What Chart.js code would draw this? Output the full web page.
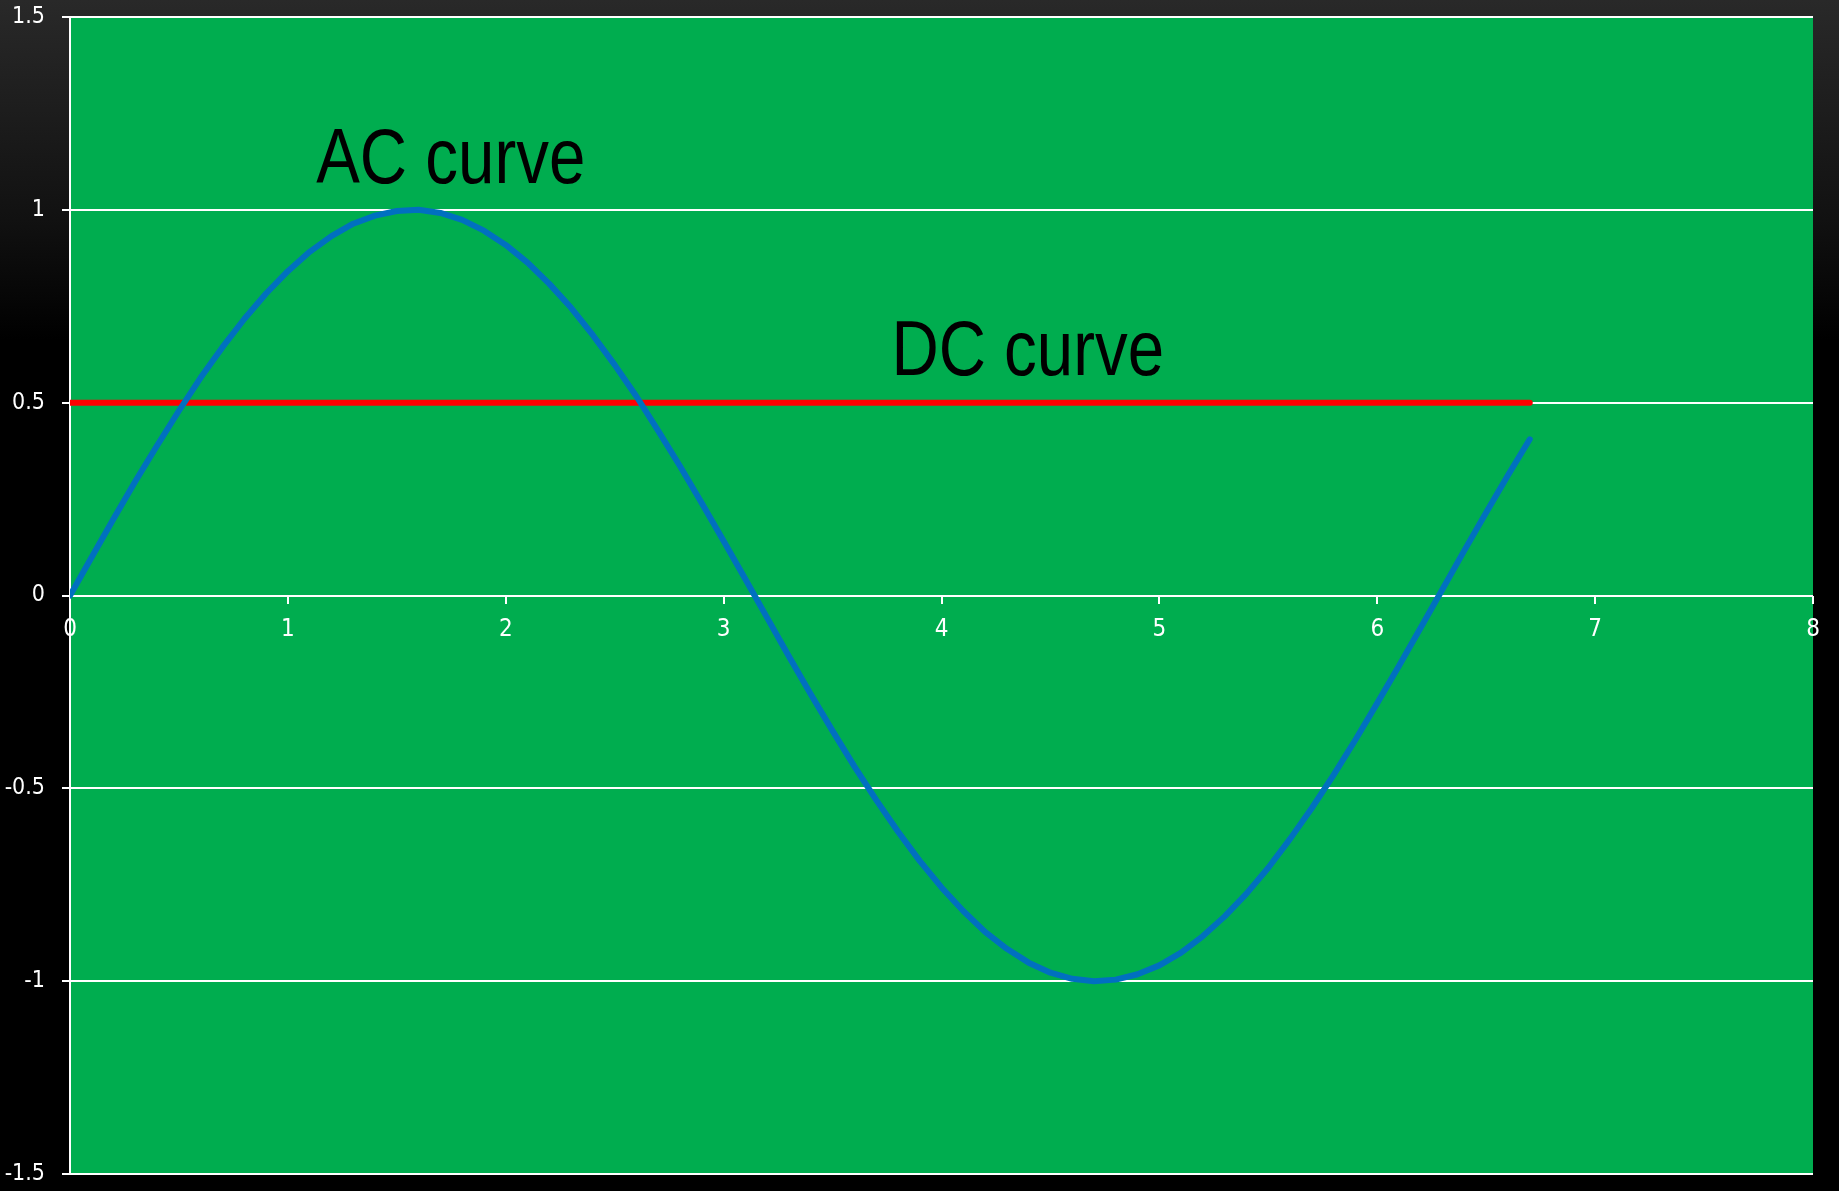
<!DOCTYPE html>
<html>
<head>
<meta charset="utf-8">
<script src="https://cdn.jsdelivr.net/npm/chart.js@4/dist/chart.umd.min.js"></script>
<style>
  html, body { margin: 0; padding: 0; }
  body { width: 1839px; height: 1191px; background: linear-gradient(to bottom, #292929 0px, #111 220px, #000 340px, #000 1191px); overflow: hidden; }
  #wrap { position: absolute; left: 0; top: 0; width: 1839px; height: 1191px; }
</style>
</head>
<body>
<div id="wrap"><canvas id="c" width="1839" height="1191"></canvas></div>
<script>
// Data
const acX = [0,0.1,0.2,0.3,0.4,0.5,0.6,0.7,0.8,0.9,1.0,1.1,1.2,1.3,1.4,1.5,1.6,1.7,1.8,1.9,2.0,2.1,2.2,2.3,2.4,2.5,2.6,2.7,2.8,2.9,3.0,3.1,3.2,3.3,3.4,3.5,3.6,3.7,3.8,3.9,4.0,4.1,4.2,4.3,4.4,4.5,4.6,4.7,4.8,4.9,5.0,5.1,5.2,5.3,5.4,5.5,5.6,5.7,5.8,5.9,6.0,6.1,6.2,6.3,6.4,6.5,6.6,6.7];
const acY = [0,0.100,0.199,0.296,0.389,0.479,0.565,0.644,0.717,0.783,0.841,0.891,0.932,0.964,0.985,0.997,1.000,0.992,0.974,0.946,0.909,0.863,0.808,0.746,0.675,0.598,0.516,0.427,0.335,0.239,0.141,0.042,-0.058,-0.158,-0.256,-0.351,-0.443,-0.530,-0.612,-0.688,-0.757,-0.818,-0.872,-0.916,-0.952,-0.978,-0.994,-1.000,-0.996,-0.982,-0.959,-0.926,-0.883,-0.832,-0.773,-0.706,-0.631,-0.551,-0.465,-0.374,-0.279,-0.182,-0.083,0.017,0.117,0.215,0.312,0.405];
const dcX = [0, 6.7];
const dcY = [0.5, 0.5];
const labelTexts = ["AC curve", "DC curve"];
const labelX = [1.13, 3.77];
const labelY = [1.069, 0.571];

const TICKFONT = '"DejaVu Sans Condensed", "Liberation Sans Narrow", sans-serif';
const NOTEFONT = '"Liberation Sans", Arial, sans-serif';

const plotBg = {
  id: 'plotBg',
  beforeDraw(chart) {
    const {ctx, chartArea: a} = chart;
    ctx.save();
    ctx.fillStyle = '#00AD4F';
    ctx.fillRect(a.left, a.top, a.right - a.left, a.bottom - a.top);
    ctx.restore();
  }
};

const textLabels = {
  id: 'textLabels',
  afterDatasetsDraw(chart) {
    const {ctx, scales} = chart;
    ctx.save();
    ctx.fillStyle = '#000';
    ctx.font = '77px ' + NOTEFONT;
    ctx.textAlign = 'left';
    ctx.textBaseline = 'alphabetic';
    for (let i = 0; i < labelTexts.length; i++) {
      const px = scales.x.getPixelForValue(labelX[i]);
      const py = scales.y.getPixelForValue(labelY[i]);
      ctx.save();
      ctx.translate(px, py);
      ctx.scale(0.85, 1);
      ctx.fillText(labelTexts[i], 0, 0);
      ctx.restore();
    }
    ctx.restore();
  }
};

new Chart(document.getElementById('c'), {
  type: 'scatter',
  data: {
    datasets: [
      {
        label: 'AC',
        data: acX.map((x, i) => ({x, y: acY[i]})),
        showLine: true,
        borderColor: '#0070C0',
        borderWidth: 6,
        pointRadius: 0,
        borderCapStyle: 'round',
        borderJoinStyle: 'round',
        tension: 0
      },
      {
        label: 'DC',
        data: dcX.map((x, i) => ({x, y: dcY[i]})),
        showLine: true,
        borderColor: '#FF0000',
        borderWidth: 6,
        pointRadius: 0,
        borderCapStyle: 'round'
      }
    ]
  },
  options: {
    responsive: false,
    animation: false,
    layout: { padding: { top: 17, right: 26, bottom: 17, left: 0 } },
    plugins: { legend: { display: false }, tooltip: { enabled: false } },
    scales: {
      x: {
        type: 'linear',
        position: { y: 0 },
        min: 0, max: 8,
        afterFit(s) { s.paddingLeft = 0; s.paddingRight = 0; },
        ticks: { stepSize: 1, color: '#fff', font: { family: TICKFONT, size: 24 }, padding: 12, maxRotation: 0 },
        grid: { drawOnChartArea: false, drawTicks: true, tickLength: 8, color: '#fff', lineWidth: 2 },
        border: { display: false }
      },
      y: {
        type: 'linear',
        position: 'left',
        min: -1.5, max: 1.5,
        afterFit(s) { s.width = 70; s.paddingTop = 0; s.paddingBottom = 0; },
        ticks: { stepSize: 0.5, color: '#fff', font: { family: TICKFONT, size: 23 }, padding: 17, callback: v => String(v) },
        grid: { color: '#fff', lineWidth: 2, tickLength: 8 },
        border: { color: '#fff', width: 2 }
      }
    }
  },
  plugins: [plotBg, textLabels]
});
</script>
</body>
</html>
